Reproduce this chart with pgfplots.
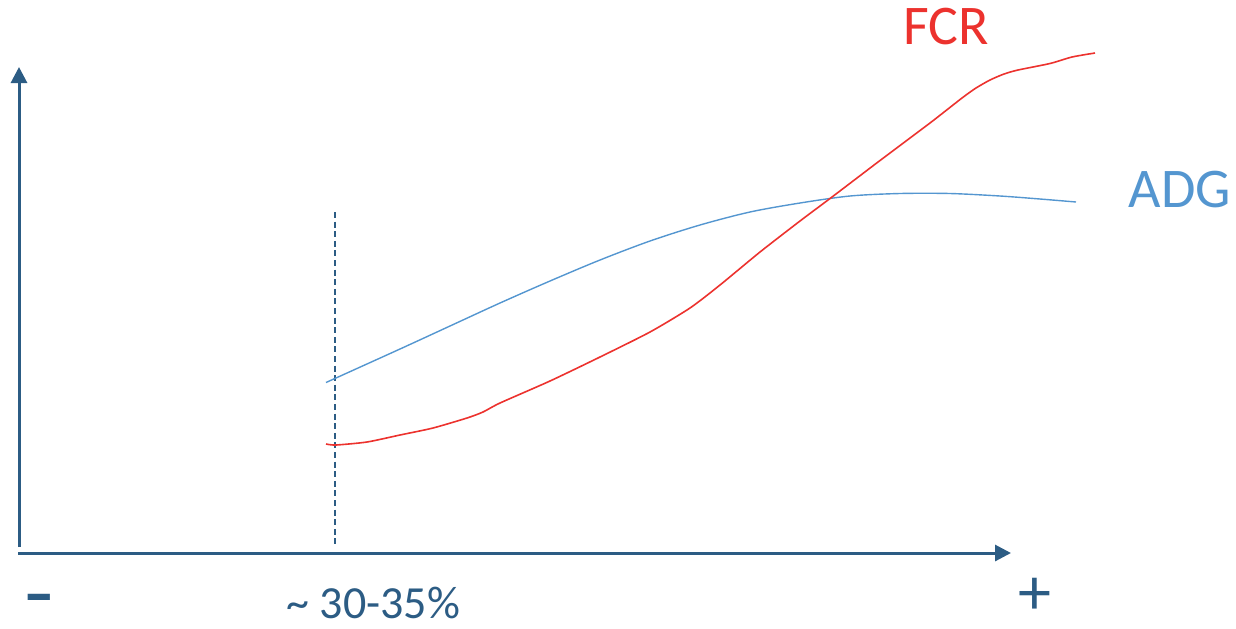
\documentclass[border=0pt]{standalone}
\usepackage{pgfplots}
\pgfplotsset{compat=1.18}
\usetikzlibrary{arrows.meta}
\usepackage{fontspec}
\setmainfont{Carlito}
\definecolor{axblue}{RGB}{44,92,132}
\definecolor{adgblue}{RGB}{84,150,208}
\definecolor{fcrred}{RGB}{236,50,46}
\begin{document}
\begin{tikzpicture}
\begin{axis}[name=ax,
  width=618pt, height=314pt, scale only axis,
  xmin=0, xmax=1236, ymin=0, ymax=628, y dir=reverse,
  hide axis, clip=false]
% axes
\addplot[axblue, line width=1.5pt, -{Triangle[width=8pt,length=8pt]}] coordinates {(19,547) (19,67)};
\addplot[axblue, line width=1.5pt, -{Triangle[width=8pt,length=8pt]}] coordinates {(18,553) (1011,553)};
% dashed
\addplot[axblue, line width=0.6pt, dash pattern=on 3pt off 1.8pt] coordinates {(335,212) (335,546)};
% ADG
\addplot[adgblue, line width=0.7pt, smooth] coordinates {
(326,382.5) (400,349) (450,326) (500,303) (550,281) (600,260) (650,241) (700,225) (750,212) (800,203) (850,196) (900,193.5) (950,193.5) (1000,196) (1040,199) (1076,202)};
% FCR
\addplot[fcrred, line width=0.8pt, smooth, tension=0.4] coordinates {
(326,444) (336,445) (367,442) (400,435) (433,428) (467,418) (483,412) (500,403) (550,381) (600,357) (650,332) (690,308) (720,285) (760,252) (800,221) (832,197) (880,160.5) (930,123) (962,98) (976,88) (990,80) (1004,74) (1018,70) (1050,63.5) (1072,57) (1095,53)};
% labels
\node[fcrred, font=\fontsize{28}{30}\selectfont, anchor=base] at (axis cs:946,44.5) {FCR};
\node[adgblue, font=\fontsize{28}{30}\selectfont, anchor=base] at (axis cs:1180,207) {ADG};
\node[axblue, font=\fontsize{23}{26}\selectfont, anchor=base west, inner sep=0pt] at (axis cs:286,618) {\char"007E\ 30-35\%};
\node[axblue, font=\bfseries\fontsize{30}{32}\selectfont, anchor=base, inner sep=0pt, xscale=1.5] at (axis cs:39,614) {-};
\node[axblue, font=\fontsize{33}{35}\selectfont, anchor=center, inner sep=0pt] at (axis cs:1035,596) {+};
\end{axis}
\pgfresetboundingbox
\path (ax.south west) rectangle (ax.north east);
\end{tikzpicture}
\end{document}
